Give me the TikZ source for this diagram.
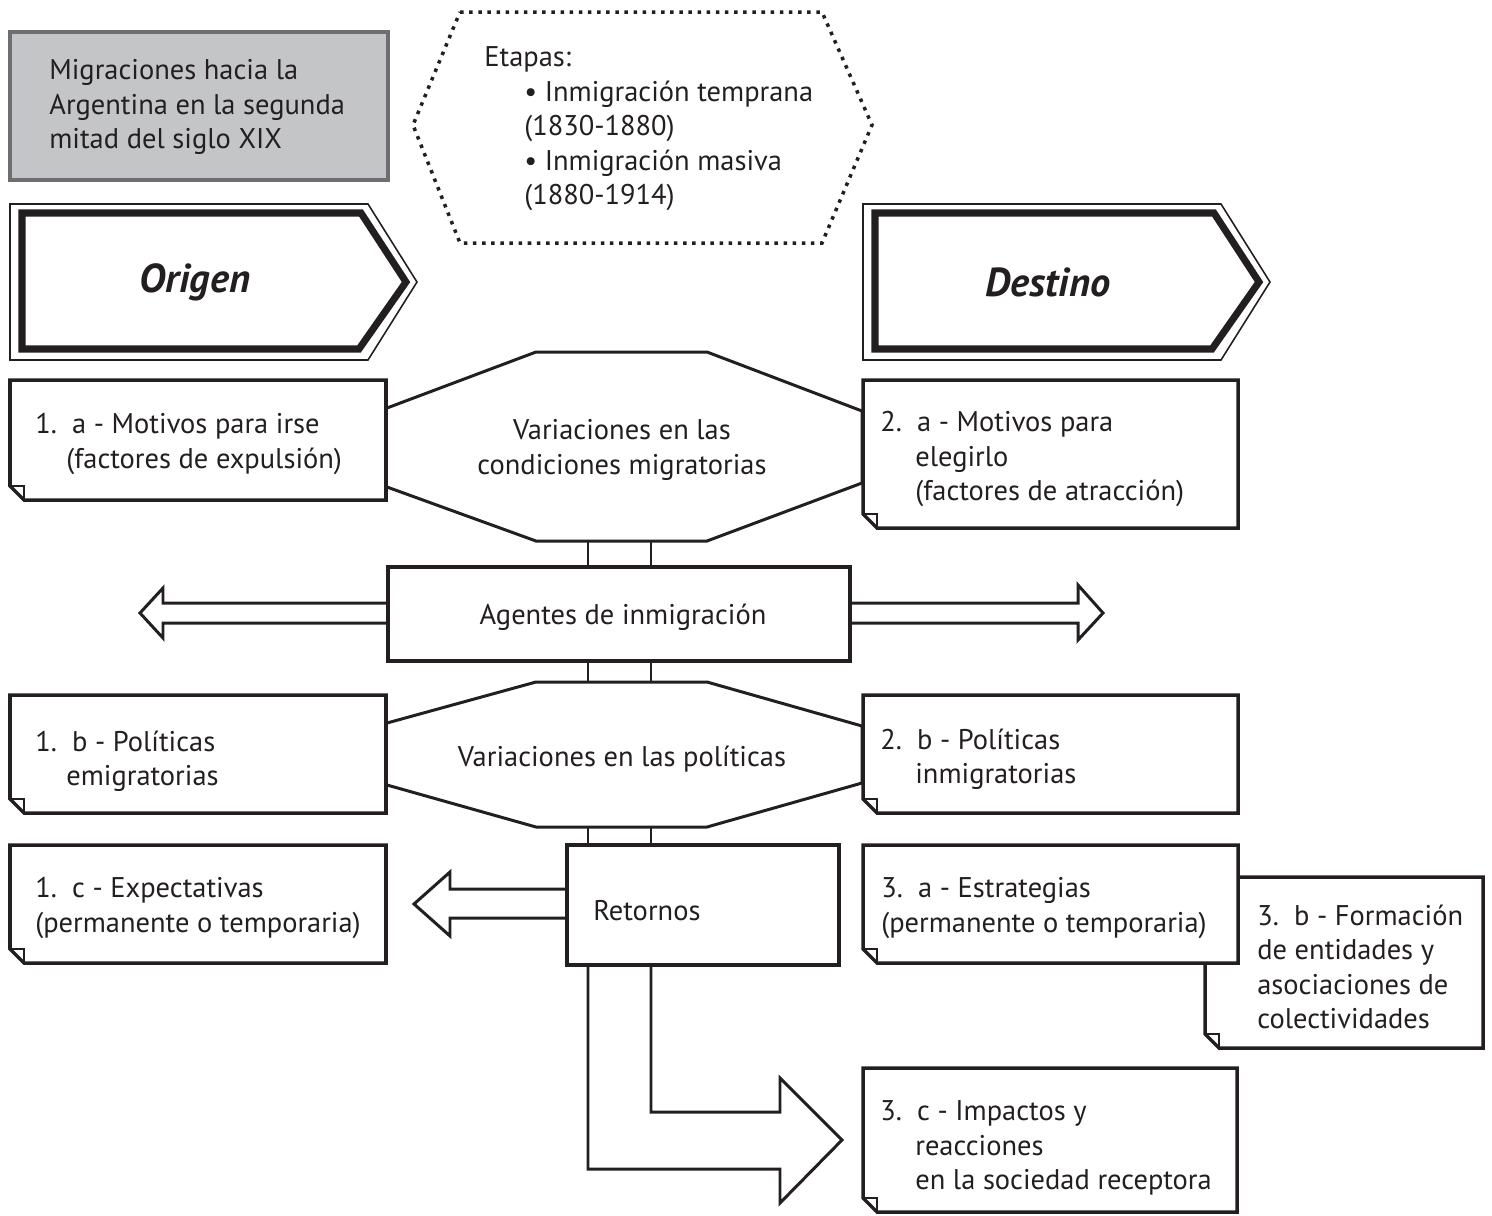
\documentclass[tikz,border=0pt]{standalone}
\usepackage{fontspec}
\setmainfont{PT Sans}
\usepackage{tikz}

\definecolor{ink}{HTML}{231F20}
\definecolor{panel}{HTML}{C4C5C7}
\definecolor{panelrim}{HTML}{6D6E71}

\tikzset{
    line/.style={draw=ink, line width=1.7pt, line join=miter},
    notebox/.style={draw=ink, fill=white, line width=2pt, line join=miter},
    txt/.style={text=ink, inner sep=0pt, align=left, anchor=west, yshift=-0.06cm, font=\fontsize{16.2}{19.6}\selectfont},
    ctxt/.style={txt, anchor=center, align=center},
    signtxt/.style={text=ink, inner sep=0pt, font=\fontsize{23}{26}\selectfont\bfseries\itshape},
}

% x1, y1, x2, y2 of a box with its lower left corner folded
\newcommand\notebox[4]{%
    \draw[notebox] (#1,#2) -- (#3,#2) -- (#3,#4) -- (#1+14,#4) -- (#1,#4-14) -- cycle;
    \draw[ink, line width=1.2pt] (#1,#4-14) -- (#1+14,#4-14) -- (#1+14,#4);
}

\begin{document}
\begin{tikzpicture}[x=0.02cm, y=-0.02cm]
\useasboundingbox (0,0) rectangle (1492,1215);

\coordinate (trunkL) at (588,0);
\coordinate (trunkR) at (651,0);
\coordinate (condicS) at (0,541);
\coordinate (politicN) at (0,682);
\coordinate (politicS) at (0,827);

\draw[draw=panelrim, fill=panel, line width=2.2pt] (10,32) rectangle (388,180);
\node[txt] (title) at (49,104) {Migraciones hacia la\\Argentina en la segunda\\mitad del siglo XIX};

\draw[ink, line width=2pt, dash pattern=on 2pt off 3.2pt]
    (460,12) -- (822,12) -- (872,125) -- (822,243) -- (460,243) -- (413,125) -- cycle;
\node[txt] (etapas) at (484,126) {Etapas:\\
    \hspace*{0.8cm}• Inmigración temprana\\\hspace*{0.8cm}(1830-1880)\\
    \hspace*{0.8cm}• Inmigración masiva\\\hspace*{0.8cm}(1880-1914)};

\draw[ink, line width=0.9pt] (10,204) -- (368,204) -- (417,282) -- (368,360) -- (10,360) -- cycle;
\draw[ink, line width=4pt] (22,213) -- (361,213) -- (406,282) -- (359,349) -- (22,349) -- cycle;
\node[signtxt] (origen) at (195,282) {Origen};
\draw[ink, line width=0.9pt] (863,204) -- (1221,204) -- (1270,282) -- (1221,360) -- (863,360) -- cycle;
\draw[ink, line width=4pt] (875,213) -- (1214,213) -- (1259,282) -- (1212,349) -- (875,349) -- cycle;
\node[signtxt] (destino) at (1048,282) {Destino};

\draw[line, fill=white] (387,408) -- (536,352) -- (707,352) -- (862,411) -- (862,483) -- (707,541) -- (536,541) -- (387,487);
\node[ctxt] (condic) at (622,447) {Variaciones en las\\condiciones migratorias};
\notebox{10}{380}{386}{500}
\node[txt] (irse) at (35,441) {1.\ \ a - Motivos para irse\\\hspace*{0.62cm}(factores de expulsión)};
\notebox{863}{380}{1238}{528}
\node[txt] (elegir) at (880,456) {2.\ \ a - Motivos para\\\hspace*{0.7cm}elegirlo\\\hspace*{0.7cm}(factores de atracción)};

\draw[line] (388,603) -- (163,603) -- (163,588) -- (140,613) -- (163,638) -- (163,623) -- (388,623);
\draw[line] (850,603) -- (1078,603) -- (1078,585) -- (1103,613) -- (1078,640) -- (1078,623) -- (850,623);
\node[draw=ink, fill=white, line width=2pt, minimum width=9.24cm, minimum height=1.88cm] (agentes) at (619,614) {};
\node[ctxt] (agenteslbl) at (623,614) {Agentes de inmigración};
\draw[line] (trunkL |- condicS) -- (trunkL |- agentes.north);
\draw[line] (trunkR |- condicS) -- (trunkR |- agentes.north);

\draw[line, fill=white] (387,723) -- (536,682) -- (707,682) -- (862,726) -- (862,783) -- (707,827) -- (536,827) -- (387,785);
\node[ctxt] (politic) at (622,756) {Variaciones en las políticas};
\draw[line] (trunkL |- agentes.south) -- (trunkL |- politicN);
\draw[line] (trunkR |- agentes.south) -- (trunkR |- politicN);
\notebox{10}{695}{386}{813}
\node[txt] (emigr) at (35,758) {1.\ \ b - Políticas\\\hspace*{0.62cm}emigratorias};
\notebox{863}{695}{1238}{813}
\node[txt] (inmigr) at (880,756) {2.\ \ b - Políticas\\\hspace*{0.7cm}inmigratorias};

\notebox{10}{845}{386}{963}
\node[txt] (expect) at (35,905) {1.\ \ c - Expectativas\\(permanente o temporaria)};
\draw[line] (567,889) -- (450,889) -- (450,872) -- (414,904) -- (450,936) -- (450,918) -- (567,918);
\node[draw=ink, fill=white, line width=2pt, minimum width=5.44cm, minimum height=2.4cm] (retornos) at (703,905) {};
\node[txt] (retornoslbl) at (593,908) {Retornos};
\draw[line] (trunkL |- politicS) -- (trunkL |- retornos.north);
\draw[line] (trunkR |- politicS) -- (trunkR |- retornos.north);
\draw[line] (trunkR |- retornos.south) -- (651,1112) -- (780,1112) -- (780,1078) -- (842,1140)
    -- (780,1203) -- (780,1169) -- (588,1169) -- (trunkL |- retornos.south);

\notebox{1205}{877}{1483}{1048}
\node[txt] (entid) at (1257,964) {3.\ \ b - Formación\\de entidades y\\asociaciones de\\colectividades};
\notebox{863}{845}{1238}{963}
\node[txt] (estrat) at (881,905) {3.\ \ a - Estrategias\\(permanente o temporaria)};
\notebox{863}{1068}{1237}{1212}
\node[txt] (impact) at (880,1145) {3.\ \ c - Impactos y\\\hspace*{0.7cm}reacciones\\\hspace*{0.7cm}en la sociedad receptora};
\end{tikzpicture}
\end{document}
